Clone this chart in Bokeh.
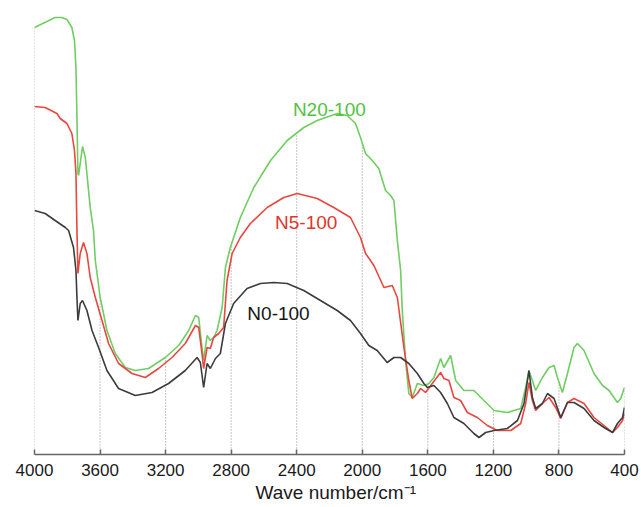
import numpy as np
from bokeh.plotting import figure
from bokeh.models import Range1d, FixedTicker, Title
from bokeh.core.properties import value
from bokeh.embed import file_html
from bokeh.resources import INLINE

# ---- data ----
ticks = [4000, 3600, 3200, 2800, 2400, 2000, 1600, 1200, 800, 400]
tick_labels = ["4000", "3600", "3200", "2800", "2400", "2000", "1600", "1200", "800", "400"]

wn_n20 = [4000, 3874, 3833, 3802, 3772, 3756, 3747, 3741, 3735, 3731,
          3707, 3690, 3660, 3640, 3629, 3599, 3558, 3507, 3446, 3385,
          3304, 3202, 3120, 3059, 3018, 2998, 2978, 2968, 2947, 2927,
          2907, 2886, 2855, 2835, 2805, 2744, 2662, 2560, 2458, 2357,
          2275, 2153, 2092, 2041, 2011, 1980, 1939, 1899, 1858, 1827,
          1807, 1786, 1766, 1756, 1736, 1716, 1695, 1664, 1624, 1593,
          1563, 1522, 1502, 1461, 1430, 1380, 1319, 1258, 1196, 1115,
          1033, 1003, 983, 962, 942, 901, 860, 830, 809, 779,
          748, 708, 687, 647, 586, 534, 494, 443, 423, 400]
t_n20 = [427, 437, 437, 435, 427, 414, 387, 337, 281, 279,
         308, 297, 247, 224, 194, 157, 124, 101, 87, 84,
         86, 97, 109, 124, 139, 137, 107, 94, 119, 114,
         117, 124, 147, 187, 207, 237, 267, 294, 314, 327,
         334, 341, 339, 331, 317, 301, 294, 286, 264, 259,
         254, 214, 184, 144, 94, 61, 57, 71, 69, 71,
         77, 96, 87, 99, 74, 64, 64, 54, 44, 42,
         46, 67, 84, 74, 64, 77, 87, 89, 77, 62,
         81, 107, 111, 104, 81, 69, 64, 52, 56, 67]

wn_n5 = [4000, 3935, 3863, 3843, 3802, 3772, 3756, 3747, 3741, 3735,
         3721, 3701, 3680, 3660, 3629, 3588, 3548, 3487, 3405, 3324,
         3243, 3161, 3080, 3018, 2998, 2978, 2968, 2947, 2927, 2907,
         2876, 2846, 2825, 2794, 2744, 2683, 2580, 2479, 2397, 2275,
         2174, 2072, 2011, 1980, 1929, 1868, 1817, 1786, 1746, 1716,
         1695, 1664, 1644, 1614, 1573, 1522, 1502, 1471, 1441, 1400,
         1359, 1298, 1237, 1176, 1094, 1033, 1003, 983, 962, 942,
         901, 860, 820, 789, 748, 708, 647, 586, 525, 473,
         443, 412, 400]
t_n5 = [348, 347, 341, 336, 331, 321, 304, 281, 224, 181,
        201, 212, 201, 177, 157, 134, 111, 91, 81, 77,
        86, 97, 111, 129, 127, 101, 86, 107, 106, 117,
        121, 127, 174, 201, 217, 231, 247, 257, 261, 256,
        247, 237, 217, 201, 189, 167, 169, 157, 107, 74,
        56, 61, 66, 62, 71, 82, 76, 74, 57, 54,
        42, 37, 29, 24, 24, 31, 51, 72, 54, 44,
        51, 57, 47, 36, 52, 56, 51, 37, 29, 22,
        27, 34, 41]

wn_n0 = [4000, 3935, 3874, 3812, 3792, 3762, 3747, 3741, 3735, 3721,
         3707, 3680, 3649, 3609, 3558, 3487, 3385, 3283, 3182, 3080,
         3008, 2988, 2968, 2947, 2927, 2896, 2866, 2835, 2785, 2703,
         2621, 2540, 2458, 2357, 2255, 2153, 2072, 2011, 1960, 1909,
         1848, 1807, 1766, 1716, 1664, 1624, 1603, 1563, 1522, 1481,
         1441, 1380, 1319, 1288, 1247, 1196, 1115, 1053, 1013, 983,
         962, 942, 901, 870, 830, 789, 748, 708, 647, 586,
         525, 473, 443, 412, 400]
t_n0 = [244, 241, 234, 227, 224, 207, 184, 157, 134, 151,
        154, 144, 124, 107, 84, 66, 59, 62, 71, 84,
        97, 92, 67, 91, 86, 96, 101, 131, 151, 166,
        171, 172, 171, 164, 154, 144, 134, 121, 109, 104,
        92, 97, 97, 91, 81, 71, 67, 69, 62, 51,
        37, 31, 21, 17, 22, 24, 26, 34, 51, 84,
        57, 46, 51, 61, 56, 37, 52, 52, 46, 34,
        27, 22, 31, 37, 47]

series_names = ["N20-100", "N5-100", "N0-100"]
label_wn = [2201, 2342, 2511]
label_t = [345, 232, 141]

line_colors = ["#6fcd62", "#e8473f", "#3c3c3c"]
text_colors = ["#52c23f", "#e0362b", "#151515"]

# ---- figure ----
p = figure(width=641, height=507, output_backend="svg", toolbar_location=None,
           x_range=Range1d(4000, 400), y_range=Range1d(0, 446),
           y_axis_location=None,
           min_border_left=34, min_border_right=17,
           min_border_top=8, min_border_bottom=53)
p.outline_line_color = None
p.xgrid.visible = False
p.ygrid.visible = False
p.background_fill_color = "white"
p.border_fill_color = "white"

# dotted drop lines from axis to the highest curve at each tick
series = [(wn_n20, t_n20), (wn_n5, t_n5), (wn_n0, t_n0)]
tops = []
for tk in ticks:
    tops.append(max(float(np.interp(tk, np.array(w[::-1]), np.array(t[::-1]))) for w, t in series))
p.segment(x0=ticks, y0=[0] * len(ticks), x1=ticks, y1=tops,
          line_color="#8a8a8a", line_width=1, line_dash="1 2")

for (w, t), c in zip(series, line_colors):
    p.line(w, t, line_color=c, line_width=1.6)

p.text(x=label_wn, y=label_t, text=series_names, text_color=text_colors,
       text_font=value("Liberation Sans"), text_font_size=value("19px"),
       text_align="center", text_baseline="alphabetic")

ax = p.xaxis[0]
ax.ticker = FixedTicker(ticks=ticks)
ax.major_label_overrides = {tk: lb for tk, lb in zip(ticks, tick_labels)}
ax.major_tick_in = 5
ax.major_tick_out = 0
ax.minor_tick_in = 0
ax.minor_tick_out = 0
ax.axis_line_color = "#666666"
ax.axis_line_width = 1.5
ax.major_tick_line_color = "#666666"
ax.major_tick_line_width = 1.5
ax.major_label_text_font = "Liberation Sans"
ax.major_label_text_font_size = "17px"
ax.major_label_text_color = "#1a1a1a"
ax.major_label_standoff = 9

xtitle = Title(text="Wave number/cm\u207b\u00b9", align="left", offset=221,
               standoff=2, text_font="Liberation Sans", text_font_size="19px",
               text_font_style="normal", text_color="#1a1a1a")
p.add_layout(xtitle, "below")

open("out.html", "w").write(file_html(p, INLINE))
